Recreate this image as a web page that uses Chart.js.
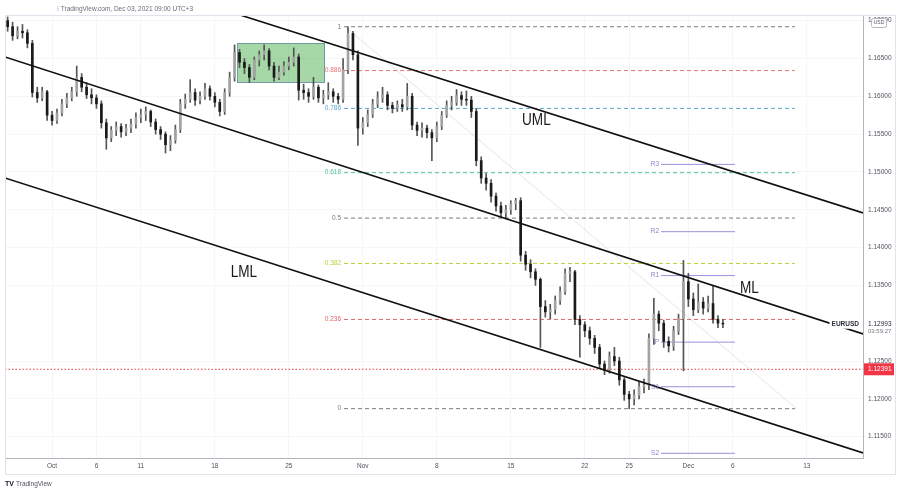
<!DOCTYPE html>
<html>
<head>
<meta charset="utf-8">
<script src="https://cdn.jsdelivr.net/npm/chart.js@4.4.0/dist/chart.umd.min.js"></script>
<style>
  html, body { margin: 0; padding: 0; background: #fff; }
  #wrap { width: 900px; height: 494px; }
</style>
</head>
<body>
<div id="wrap"><canvas id="chart" width="900" height="494"></canvas></div>
<script>
// EURUSD, 8h candles Sep 28 -> Dec 3 2021. x = trading day index (Sep 28 = 0, Oct 1 = 3)
const firstOpen = 1.1700;
const closes = [
  1.1692, 1.1680, 1.1686, 1.1684, 1.1670, 1.1605, 1.1598, 1.1606, 1.1575, 1.1568,
  1.1578, 1.1590, 1.1598, 1.1606, 1.1625, 1.1612, 1.1602, 1.1598, 1.1590, 1.1565,
  1.1545, 1.1555, 1.1560, 1.1553, 1.1558, 1.1563, 1.1572, 1.1576, 1.1580, 1.1566,
  1.1556, 1.1550, 1.1536, 1.1542, 1.1556, 1.1590, 1.1596, 1.1605, 1.1595, 1.1600,
  1.1610, 1.1600, 1.1592, 1.1580, 1.1605, 1.1625, 1.1658, 1.1645, 1.1638, 1.1625,
  1.1648, 1.1655, 1.1660, 1.1640, 1.1625, 1.1632, 1.1640, 1.1645, 1.1652, 1.1608,
  1.1605, 1.1600, 1.1612, 1.1598, 1.1602, 1.1606, 1.1600, 1.1596, 1.1635, 1.1683,
  1.1655, 1.1558, 1.1565, 1.1576, 1.1590, 1.1598, 1.1602, 1.1588, 1.1584, 1.1589,
  1.1586, 1.1600, 1.1562, 1.1555, 1.1558, 1.1552, 1.1545, 1.1560, 1.1575, 1.1588,
  1.1592, 1.1601, 1.1596, 1.1595, 1.1580, 1.1515, 1.1492, 1.1485, 1.1468, 1.1455,
  1.1446, 1.1450, 1.1458, 1.1462, 1.1390, 1.1378, 1.1368, 1.1358, 1.1322, 1.1315,
  1.1318, 1.1330, 1.1342, 1.1366, 1.1368, 1.1305, 1.1298, 1.1290, 1.1280, 1.1268,
  1.1246, 1.1238, 1.1256, 1.1250, 1.1225, 1.1206, 1.1200, 1.1205, 1.1216, 1.1218,
  1.1280, 1.1312, 1.1300, 1.1276, 1.1270, 1.1290, 1.1306, 1.1355, 1.1332, 1.1318,
  1.1328, 1.1320, 1.1326, 1.1305, 1.1300, 1.1299
];
const highs = [
  1.1705, 1.1698, 1.1692, 1.1695, 1.1688, 1.1674, 1.1612, 1.1612, 1.1608, 1.1580,
  1.1583, 1.1596, 1.1604, 1.1612, 1.1640, 1.1630, 1.1618, 1.1610, 1.1602, 1.1594,
  1.1570, 1.1560, 1.1566, 1.1564, 1.1563, 1.1570, 1.1578, 1.1583, 1.1586, 1.1582,
  1.1570, 1.1560, 1.1553, 1.1548, 1.1562, 1.1596, 1.1603, 1.1622, 1.1610, 1.1606,
  1.1617, 1.1614, 1.1605, 1.1596, 1.1610, 1.1632, 1.1668, 1.1662, 1.1650, 1.1642,
  1.1652, 1.1660, 1.1668, 1.1663, 1.1645, 1.1640, 1.1646, 1.1652, 1.1664, 1.1656,
  1.1616, 1.1610, 1.1625, 1.1615, 1.1608, 1.1618, 1.1610, 1.1604, 1.1650, 1.1692,
  1.1686, 1.1660, 1.1572, 1.1582, 1.1596, 1.1606, 1.1612, 1.1606, 1.1592, 1.1594,
  1.1596, 1.1617, 1.1604, 1.1566, 1.1565, 1.1562, 1.1556, 1.1566, 1.1580, 1.1594,
  1.1600, 1.1609, 1.1606, 1.1607, 1.1600, 1.1584, 1.1520, 1.1498, 1.1490, 1.1472,
  1.1460, 1.1456, 1.1462, 1.1465, 1.1466, 1.1395, 1.1384, 1.1372, 1.1360, 1.1330,
  1.1325, 1.1336, 1.1348, 1.1372, 1.1374, 1.1370, 1.1310, 1.1302, 1.1295, 1.1284,
  1.1272, 1.1250, 1.1262, 1.1268, 1.1255, 1.1228, 1.1210, 1.1212, 1.1222, 1.1226,
  1.1286, 1.1333, 1.1316, 1.1304, 1.1282, 1.1296, 1.1312, 1.1383, 1.1366, 1.1340,
  1.1352, 1.1334, 1.1336, 1.1350, 1.1310, 1.1305
];
const lows = [
  1.1686, 1.1674, 1.1676, 1.1677, 1.1664, 1.1599, 1.1592, 1.1594, 1.1568, 1.1562,
  1.1564, 1.1574, 1.1585, 1.1594, 1.1600, 1.1606, 1.1597, 1.1590, 1.1584, 1.1558,
  1.1530, 1.1540, 1.1548, 1.1546, 1.1548, 1.1552, 1.1558, 1.1565, 1.1568, 1.1560,
  1.1550, 1.1543, 1.1525, 1.1528, 1.1538, 1.1552, 1.1584, 1.1592, 1.1588, 1.1590,
  1.1596, 1.1595, 1.1586, 1.1574, 1.1576, 1.1600, 1.1620, 1.1638, 1.1630, 1.1618,
  1.1622, 1.1640, 1.1648, 1.1635, 1.1620, 1.1622, 1.1628, 1.1635, 1.1640, 1.1595,
  1.1596, 1.1592, 1.1596, 1.1592, 1.1590, 1.1596, 1.1592, 1.1590, 1.1592, 1.1630,
  1.1648, 1.1535, 1.1550, 1.1560, 1.1572, 1.1585, 1.1592, 1.1582, 1.1578, 1.1580,
  1.1580, 1.1582, 1.1556, 1.1548, 1.1546, 1.1545, 1.1515, 1.1540, 1.1556, 1.1572,
  1.1582, 1.1588, 1.1588, 1.1588, 1.1572, 1.1508, 1.1485, 1.1476, 1.1460, 1.1448,
  1.1440, 1.1438, 1.1444, 1.1450, 1.1382, 1.1370, 1.1360, 1.1350, 1.1268, 1.1308,
  1.1306, 1.1312, 1.1325, 1.1338, 1.1355, 1.1298, 1.1255, 1.1282, 1.1272, 1.1260,
  1.1240, 1.1232, 1.1234, 1.1244, 1.1218, 1.1198, 1.1187, 1.1192, 1.1200, 1.1208,
  1.1212, 1.1272, 1.1290, 1.1268, 1.1262, 1.1264, 1.1285, 1.1237, 1.1322, 1.1310,
  1.1314, 1.1312, 1.1315, 1.1300, 1.1294, 1.1294
];
const candlesPerDay = 3;

// time axis labels (trading day index -> label)
const dayTicks = [3, 6, 9, 14, 19, 24, 29, 34, 39, 42, 46, 49, 54];
const dayLabels = ['Oct', '6', '11', '18', '25', 'Nov', '8', '15', '22', '25', 'Dec', '6', '13'];
const priceTicks = [1.115, 1.12, 1.125, 1.135, 1.14, 1.145, 1.15, 1.155, 1.16, 1.165, 1.17];

// fibonacci retracement (Oct 28 high -> Nov 24 low)
const fibLabels = ['1', '0.886', '0.786', '0.618', '0.5', '0.382', '0.236', '0'];
const fibPrices = [1.1692, 1.1634, 1.1584, 1.1499, 1.1439, 1.1379, 1.1305, 1.1187];
const fibColors = ['#787b86', '#e57373', '#5aa9cf', '#4cbf9c', '#787b86', '#c0cf3a', '#e06666', '#787b86'];
const fibSpan = [22.73, 53.2];
const fibTrend = [[22.8, 1.1692], [53.3, 1.1187]];

// weekly pivots
const pivotNames = ['R3', 'R2', 'R1', 'P', 'S1', 'S2'];
const pivotPrices = [1.1510, 1.1421, 1.1363, 1.1275, 1.1216, 1.1128];
const pivotSpan = [44.15, 49.15];

// pitchfork channel
const umlLine = [[10, 1.1743], [57.8, 1.14458]];
const mlLine = [[-0.18, 1.16520], [57.8, 1.12858]];
const lmlLine = [[-0.18, 1.14920], [57.8, 1.11285]];
const channelNames = ['UML', 'ML', 'LML'];
const channelLabelAt = [[34.76, 1.15621], [49.49, 1.13404], [15.07, 1.13616]];

const supportLevel = 1.12391;
const lastPrice = 1.12993;
const rangeBox = { x: [15.5, 21.38], y: [1.1619, 1.16705] };

const FONT = '"Liberation Sans", Arial, sans-serif';
const AXIS_TEXT = '#50535e';

const candles = closes.map((c, i) => ({
  x: i / candlesPerDay,
  o: i === 0 ? firstOpen : closes[i - 1],
  c: c,
  h: highs[i],
  l: lows[i],
}));

function seg(points, color, width, dash, order) {
  return {
    type: 'line',
    data: points.map(p => ({ x: p[0], y: p[1] })),
    borderColor: color,
    borderWidth: width,
    borderDash: dash || [],
    pointRadius: 0,
    fill: false,
    tension: 0,
    order: order,
  };
}

const datasets = [];
datasets.push({
  type: 'bar',
  data: candles.map(k => ({ x: k.x, y: [k.l, k.h] })),
  backgroundColor: '#555',
  barThickness: 1,
  grouped: false,
  order: 3,
});
datasets.push({
  type: 'bar',
  data: candles.map(k => ({ x: k.x, y: [k.o, k.c] })),
  backgroundColor: candles.map(k => (k.c >= k.o ? '#a3a3a3' : '#1a1a1a')),
  borderWidth: 0,
  barThickness: 2,
  grouped: false,
  order: 2,
});
fibPrices.forEach((p, i) => {
  datasets.push(seg([[fibSpan[0], p], [fibSpan[1], p]], fibColors[i], 1, [4, 3], 6));
});
datasets.push(seg(fibTrend, 'rgba(150,150,160,0.25)', 1, [], 6));
pivotPrices.forEach(p => {
  datasets.push(seg([[pivotSpan[0], p], [pivotSpan[1], p]], '#9d8fd8', 1, [], 5));
});
datasets.push(seg([[-0.18, supportLevel], [57.8, supportLevel]], '#e53935', 1, [1.5, 2], 4));
datasets.push(seg(umlLine, '#111', 1.6, [], 0));
datasets.push(seg(mlLine, '#111', 1.6, [], 0));
datasets.push(seg(lmlLine, '#111', 1.6, [], 0));

const overlays = {
  id: 'overlays',
  beforeDatasetsDraw(chart) {
    const { ctx, scales: { x, y } } = chart;
    const x0 = x.getPixelForValue(rangeBox.x[0]);
    const x1 = x.getPixelForValue(rangeBox.x[1]);
    const y0 = y.getPixelForValue(rangeBox.y[1]);
    const y1 = y.getPixelForValue(rangeBox.y[0]);
    ctx.save();
    ctx.fillStyle = 'rgba(76,175,80,0.5)';
    ctx.fillRect(x0, y0, x1 - x0, y1 - y0);
    ctx.strokeStyle = '#6f9aa0';
    ctx.lineWidth = 1;
    ctx.strokeRect(Math.round(x0) + 0.5, Math.round(y0) + 0.5, x1 - x0, y1 - y0);
    ctx.restore();
  },
  afterDraw(chart) {
    const { ctx, scales: { x, y }, chartArea } = chart;
    ctx.save();

    // frame
    ctx.strokeStyle = '#e0e3eb';
    ctx.lineWidth = 1;
    ctx.strokeRect(5.5, 15.5, 890, 459);

    // fib labels
    ctx.font = '6.5px ' + FONT;
    ctx.textAlign = 'right';
    ctx.textBaseline = 'middle';
    fibLabels.forEach((t, i) => {
      ctx.fillStyle = fibColors[i];
      ctx.fillText(t, x.getPixelForValue(fibSpan[0]) - 3, y.getPixelForValue(fibPrices[i]));
    });

    // pivot labels
    ctx.fillStyle = '#8e7fd0';
    pivotNames.forEach((t, i) => {
      ctx.fillText(t, x.getPixelForValue(pivotSpan[0]) - 2, y.getPixelForValue(pivotPrices[i]));
    });

    // channel names
    ctx.fillStyle = '#1a1a1a';
    ctx.font = '17px ' + FONT;
    ctx.textAlign = 'left';
    ctx.textBaseline = 'alphabetic';
    channelNames.forEach((t, i) => {
      ctx.save();
      ctx.translate(x.getPixelForValue(channelLabelAt[i][0]), y.getPixelForValue(channelLabelAt[i][1]));
      ctx.scale(0.8, 1);
      ctx.fillText(t, 0, 0);
      ctx.restore();
    });

    // symbol label + last price
    const yl = y.getPixelForValue(lastPrice);
    ctx.font = 'bold 6.5px ' + FONT;
    ctx.textBaseline = 'middle';
    const w = ctx.measureText('EURUSD').width;
    ctx.fillStyle = '#fff';
    ctx.fillRect(chartArea.right - w - 6, yl - 5, w + 4, 10);
    ctx.fillStyle = '#2a2e39';
    ctx.textAlign = 'right';
    ctx.fillText('EURUSD', chartArea.right - 4, yl);
    ctx.textAlign = 'left';
    ctx.font = '6.5px ' + FONT;
    ctx.fillText(lastPrice.toFixed(5), chartArea.right + 5, yl);
    ctx.fillStyle = '#787b86';
    ctx.font = '6px ' + FONT;
    ctx.fillText('03:59:27', chartArea.right + 5, yl + 8);

    // support price tag
    const ys = y.getPixelForValue(supportLevel);
    ctx.fillStyle = '#f23645';
    ctx.fillRect(chartArea.right + 1, ys - 6, 30, 12);
    ctx.fillStyle = '#fff';
    ctx.font = '6.5px ' + FONT;
    ctx.fillText(supportLevel.toFixed(5), chartArea.right + 5, ys);

    // currency badge
    ctx.fillStyle = '#fff';
    ctx.strokeStyle = '#b2b5be';
    ctx.beginPath();
    ctx.roundRect(871.5, 18.5, 15, 9, 2);
    ctx.fill();
    ctx.stroke();
    ctx.fillStyle = '#50535e';
    ctx.font = '5px ' + FONT;
    ctx.textAlign = 'center';
    ctx.fillText('USD', 879, 23);

    // header and footer
    ctx.textAlign = 'left';
    ctx.fillStyle = '#6a6d78';
    ctx.font = '6.5px ' + FONT;
    ctx.fillText('\u205D TradingView.com, Dec 03, 2021 09:00 UTC+3', 57, 9);
    ctx.fillStyle = '#131722';
    ctx.font = 'bold 7px ' + FONT;
    ctx.fillText('TV', 5, 484);
    ctx.font = '6.5px ' + FONT;
    ctx.fillStyle = '#50535e';
    ctx.fillText('TradingView', 16, 484);
    ctx.restore();
  },
};

new Chart(document.getElementById('chart'), {
  type: 'bar',
  data: { datasets },
  options: {
    responsive: false,
    devicePixelRatio: 1,
    animation: false,
    layout: { padding: { left: 5, right: 0, top: 15, bottom: 20 } },
    plugins: { legend: { display: false }, tooltip: { enabled: false } },
    scales: {
      x: {
        type: 'linear',
        min: -0.18,
        max: 57.8,
        offset: false,
        afterBuildTicks: s => { s.ticks = dayTicks.map(v => ({ value: v })); },
        afterFit: s => { s.height = 16; },
        ticks: {
          autoSkip: false,
          maxRotation: 0,
          padding: 4,
          color: AXIS_TEXT,
          font: { size: 6.5, family: FONT },
          callback: v => {
            const i = dayTicks.indexOf(v);
            return i >= 0 ? dayLabels[i] : '';
          },
        },
        grid: { color: '#f5f6f8', drawTicks: false, offset: false },
        border: { color: '#b2b5be' },
      },
      y: {
        type: 'linear',
        position: 'right',
        min: 1.11218,
        max: 1.17075,
        afterBuildTicks: s => { s.ticks = priceTicks.map(v => ({ value: v })); },
        afterFit: s => { s.width = 37; },
        ticks: {
          padding: 5,
          color: AXIS_TEXT,
          font: { size: 6.5, family: FONT },
          callback: v => v.toFixed(5),
        },
        grid: { color: '#f5f6f8', drawTicks: false },
        border: { color: '#b2b5be' },
      },
    },
  },
  plugins: [overlays],
});
</script>
</body>
</html>
